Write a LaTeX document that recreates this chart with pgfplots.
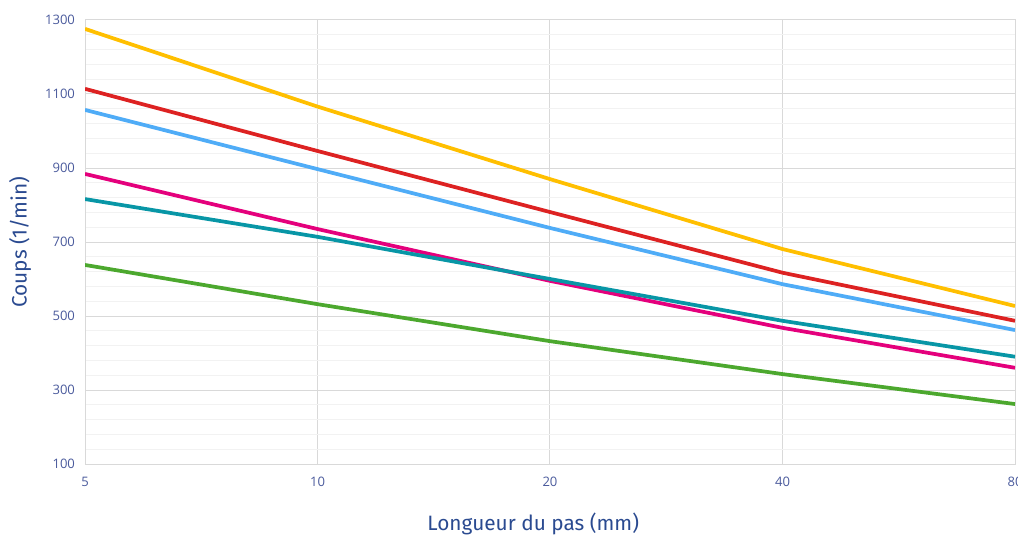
\documentclass[border=0pt]{standalone}
\usepackage{pgfplots}
\pgfplotsset{compat=1.18}
\usepackage{fontspec}
\setmainfont{Open Sans}
\newfontfamily\labelfont{Fira Sans}

\definecolor{cyellow}{HTML}{FFBF00}
\definecolor{cred}{HTML}{DD2222}
\definecolor{cblue}{HTML}{4FACF7}
\definecolor{cmagenta}{HTML}{E4007C}
\definecolor{cteal}{HTML}{0896A6}
\definecolor{cgreen}{HTML}{4CA82E}
\definecolor{tickcol}{HTML}{4A5A9C}
\definecolor{labcol}{HTML}{2A4A90}

\begin{document}
\begin{tikzpicture}
\begin{axis}[
    name=ax,
    scale only axis,
    width=697.5pt, height=333pt,
    xmode=log, log basis x=2,
    xmin=5, xmax=80, ymin=100, ymax=1300,
    xtick={5,10,20,40,80},
    xticklabels={5,10,20,40,80},
    ytick={100,300,500,700,900,1100,1300},
    minor y tick num=4,
    tick style={draw=none},
    grid=both,
    major grid style={draw=black!15, line width=0.75pt},
    minor grid style={draw=black!5, line width=0.75pt},
    axis line style={draw=black!15, line width=0.75pt},
    /pgf/number format/assume math mode=true,
    /pgf/number format/1000 sep={},
    ticklabel style={font=\fontsize{9.8}{11}\selectfont, text=tickcol},
    yticklabel style={xshift=-4pt},
    xticklabel style={yshift=-6pt},
    xlabel={Longueur du pas (mm)},
    ylabel={Coups (1/min)},
    label style={font=\labelfont\fontsize{15.6}{18}\selectfont, text=labcol},
    xlabel style={at={(axis description cs:0.482,0)}, anchor=center, yshift=-45pt},
    ylabel style={at={(axis description cs:0,0.5)}, anchor=center, yshift=48.75pt},
    every axis plot/.append style={line width=2.8pt, line join=round},
]
\addplot[cyellow] coordinates {(5,1276)(10,1066)(20,870)(40,681)(80,527)};
\addplot[cred] coordinates {(5,1114)(10,946)(20,781)(40,617)(80,487)};
\addplot[cblue] coordinates {(5,1057)(10,897)(20,738)(40,586)(80,462)};
\addplot[cmagenta] coordinates {(5,884)(10,735)(20,595)(40,468)(80,360)};
\addplot[cteal] coordinates {(5,816)(10,714)(20,600)(40,487)(80,390)};
\addplot[cgreen] coordinates {(5,638)(10,532)(20,432)(40,343)(80,262)};
\end{axis}
\pgfresetboundingbox
\path ([xshift=-63.75pt, yshift=15pt]ax.north west) rectangle ([xshift=2.25pt, yshift=-54pt]ax.south east);
\end{tikzpicture}
\end{document}
